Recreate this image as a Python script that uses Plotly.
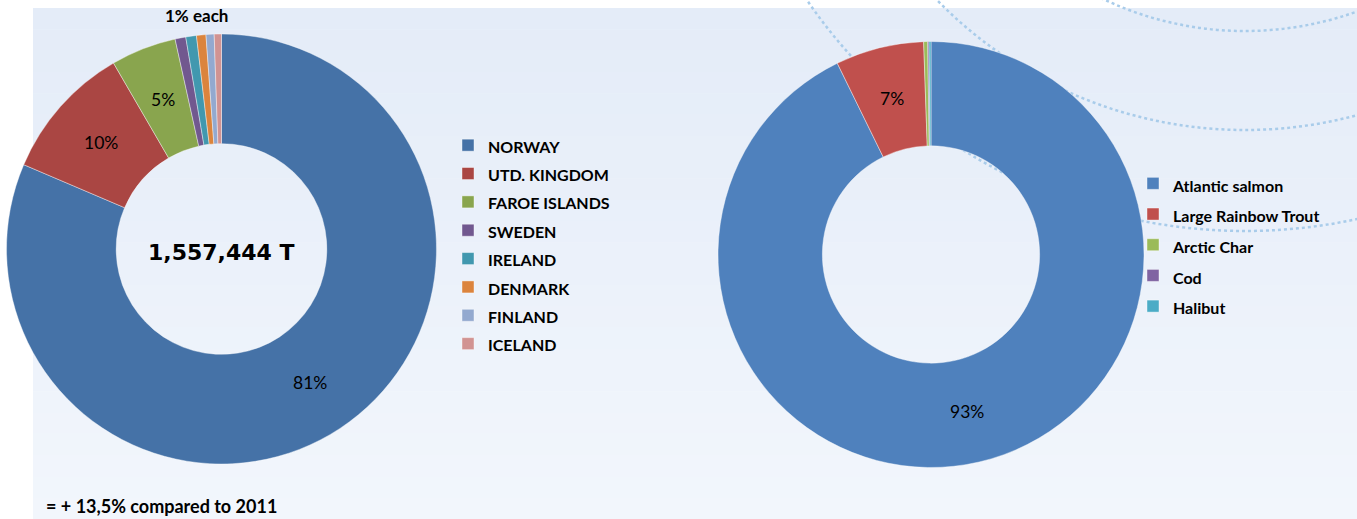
import math
import plotly.graph_objects as go

W, H = 1357, 519

# ---- data: left donut (salmonid production by country, 2012) ----
countries = ["NORWAY", "UTD. KINGDOM", "FAROE ISLANDS", "SWEDEN",
             "IRELAND", "DENMARK", "FINLAND", "ICELAND"]
country_tonnes = [1268000, 159000, 76500, 12500, 12500, 11000, 9500, 8444]
country_colors = ["#4572A7", "#AA4643", "#89A54E", "#71588F",
                  "#4198AF", "#DB843D", "#93A9CF", "#D19392"]
total_label = "1,557,444 T"
small_note = "1% each"
footnote = "= + 13,5% compared to 2011"

# ---- data: right donut (share by species, %) ----
species = ["Atlantic salmon", "Large Rainbow Trout", "Arctic Char", "Cod", "Halibut"]
species_share = [92.75, 6.7, 0.3, 0.1, 0.15]
species_colors = ["#4F81BD", "#C0504D", "#9BBB59", "#8064A2", "#4BACC6"]


def px(x):
    return x / W


def py(y):
    return 1 - y / H


FONT = "Lato"

# pie geometry (pixels): center x, center y, outer radius, hole fraction
LEFT = dict(cx=221.5, cy=249, r=215, hole=0.49)
RIGHT = dict(cx=931, cy=254.5, r=213, hole=0.51)


def domain(g):
    return dict(x=[px(g["cx"] - g["r"]), px(g["cx"] + g["r"])],
                y=[py(g["cy"] + g["r"]), py(g["cy"] - g["r"])])


def legend_labels(names, size):
    return [f"<span style='font-size:{size}px'>{n}</span>" for n in names]


def pct_annotations(values, g, min_pct=2):
    """Percent labels at the middle of each slice ring (clockwise from 12 o'clock)."""
    tot = sum(values)
    out = []
    cum = 0
    rmid = g["r"] * (1 + g["hole"]) / 2
    for v in values:
        share = v / tot * 100
        theta = math.radians(360 * (cum + v / 2) / tot)
        cum += v
        if share < min_pct:
            continue
        x = g["cx"] + rmid * math.sin(theta)
        y = g["cy"] - rmid * math.cos(theta)
        out.append(dict(text=f"{round(share)}%", x=px(x), y=py(y), xref="paper", yref="paper",
                        showarrow=False, xanchor="center", yanchor="middle",
                        font=dict(family=FONT, size=17.5, color="black")))
    return out


fig = go.Figure()

fig.add_trace(go.Pie(
    labels=legend_labels(countries, 16),
    values=country_tonnes,
    textinfo="none",
    hole=LEFT["hole"],
    sort=False,
    direction="clockwise",
    rotation=0,
    marker=dict(colors=country_colors, line=dict(color="rgba(255,255,255,0.5)", width=0.8)),
    domain=domain(LEFT),
    legend="legend",
    hoverinfo="label+value+percent",
))

fig.add_trace(go.Pie(
    labels=legend_labels(species, 16),
    values=species_share,
    textinfo="none",
    hole=RIGHT["hole"],
    sort=False,
    direction="clockwise",
    rotation=0,
    marker=dict(colors=species_colors, line=dict(color="rgba(255,255,255,0.5)", width=0.8)),
    domain=domain(RIGHT),
    legend="legend2",
    hoverinfo="label+value+percent",
))

# ---- background: white frame + vertical light-blue gradient ----
shapes = []
n_bands = 24
top, bottom = 8, H
c0 = (228, 236, 248)
c1 = (242, 246, 252)
for i in range(n_bands):
    t = i / (n_bands - 1)
    col = tuple(round(c0[k] + (c1[k] - c0[k]) * t) for k in range(3))
    y0 = top + (bottom - top) * i / n_bands
    y1 = top + (bottom - top) * (i + 1) / n_bands
    shapes.append(dict(type="rect", xref="paper", yref="paper", layer="below",
                       x0=px(33), x1=1, y0=py(y1 + 0.5), y1=py(y0),
                       fillcolor="rgb(%d,%d,%d)" % col, line=dict(width=0)))

# decorative dotted arcs
arc_cx, arc_cy = 1245, -300
for r in [531, 430, 331]:
    shapes.append(dict(type="circle", xref="paper", yref="paper", layer="below",
                       x0=px(arc_cx - r), x1=px(arc_cx + r),
                       y0=py(arc_cy + r), y1=py(arc_cy - r),
                       line=dict(color="#A9CCEA", width=2.5, dash="dot"),
                       fillcolor="rgba(0,0,0,0)"))

annotations = [
    dict(text=total_label, x=px(222), y=py(252), xref="paper", yref="paper",
         showarrow=False, xanchor="center", yanchor="middle",
         font=dict(family="DejaVu Sans", size=22, color="black", weight=700)),
    dict(text=small_note, x=px(196), y=py(15), xref="paper", yref="paper",
         showarrow=False, xanchor="center", yanchor="middle",
         font=dict(family=FONT, size=17, color="black", weight=700)),
    dict(text=footnote, x=px(44), y=py(506), xref="paper", yref="paper",
         showarrow=False, xanchor="left", yanchor="middle",
         font=dict(family=FONT, size=18, color="black", weight=700)),
]
annotations += pct_annotations(country_tonnes, LEFT)
annotations += pct_annotations(species_share, RIGHT)

fig.update_layout(
    width=W, height=H,
    margin=dict(l=0, r=0, t=0, b=0),
    paper_bgcolor="white",
    plot_bgcolor="rgba(0,0,0,0)",
    shapes=shapes,
    annotations=annotations,
    showlegend=True,
    legend=dict(x=px(448), y=py(126), xanchor="left", yanchor="top",
                font=dict(family=FONT, size=19.5, color="black", weight=700),
                bgcolor="rgba(0,0,0,0)", itemclick=False, itemdoubleclick=False),
    legend2=dict(x=px(1133), y=py(163), xanchor="left", yanchor="top",
                 font=dict(family=FONT, size=21.3, color="black", weight=700),
                 bgcolor="rgba(0,0,0,0)", itemclick=False, itemdoubleclick=False),
)

fig.write_html("out.html", config={"displayModeBar": False},
               post_script="document.body.style.margin='0';")
